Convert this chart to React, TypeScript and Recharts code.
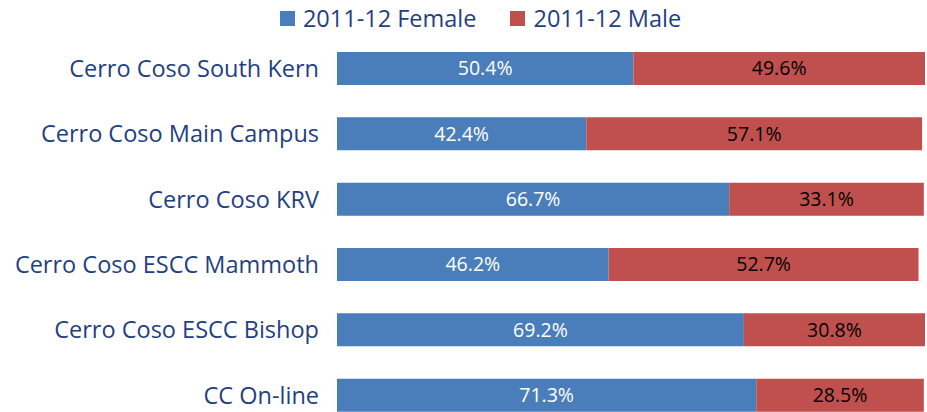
import { BarChart, Bar, XAxis, YAxis, Legend, LabelList } from 'recharts';

const campuses = [
  'Cerro Coso South Kern',
  'Cerro Coso Main Campus',
  'Cerro Coso KRV',
  'Cerro Coso ESCC Mammoth',
  'Cerro Coso ESCC Bishop',
  'CC On-line',
];
const female = [50.4, 42.4, 66.7, 46.2, 69.2, 71.3];
const male = [49.6, 57.1, 33.1, 52.7, 30.8, 28.5];
const seriesNames = ['2011-12 Female', '2011-12 Male'];

const BLUE = '#4a7ebb';
const RED = '#c0504d';
const TEXT = '#243f7f';
const FONT = '"Open Sans", "Noto Sans", sans-serif';

const data = campuses.map((name, i) => ({ name, female: female[i], male: male[i] }));

const LegendContent = () => (
  <div
    style={{
      height: 36,
      display: 'flex',
      justifyContent: 'center',
      alignItems: 'center',
      gap: 34,
      fontFamily: FONT,
      fontSize: 23.5,
      color: TEXT,
      paddingLeft: 36,
    }}
  >
    {[BLUE, RED].map((c, i) => (
      <span key={i} style={{ display: 'flex', alignItems: 'center' }}>
        <span style={{ width: 15, height: 15, background: c, marginRight: 8, display: 'inline-block' }} />
        {seriesNames[i]}
      </span>
    ))}
  </div>
);

const fmt = (v: any) => `${Number(v).toFixed(1)}%`;

export default function App() {
  return (
    <div style={{ position: 'absolute', left: 0, top: 0 }}>
      <BarChart
        width={927}
        height={428}
        data={data}
        layout="vertical"
        margin={{ top: 0, right: 2, bottom: 0, left: 0 }}
        barSize={33}
      >
        <XAxis type="number" domain={[0, 100]} hide />
        <YAxis
          type="category"
          dataKey="name"
          width={337}
          axisLine={false}
          tickLine={false}
          tickSize={0}
          tickMargin={18}
          tick={{ fill: TEXT, fontSize: 23.5, fontFamily: FONT }}
        />
        <Legend verticalAlign="top" align="center" content={<LegendContent />} />
        <Bar dataKey="female" stackId="a" fill={BLUE} isAnimationActive={false}>
          <LabelList dataKey="female" position="center" formatter={fmt} fill="#ffffff" fontSize={19.5} fontFamily={FONT} />
        </Bar>
        <Bar dataKey="male" stackId="a" fill={RED} isAnimationActive={false}>
          <LabelList dataKey="male" position="center" formatter={fmt} fill="#000000" fontSize={19.5} fontFamily={FONT} />
        </Bar>
      </BarChart>
    </div>
  );
}
